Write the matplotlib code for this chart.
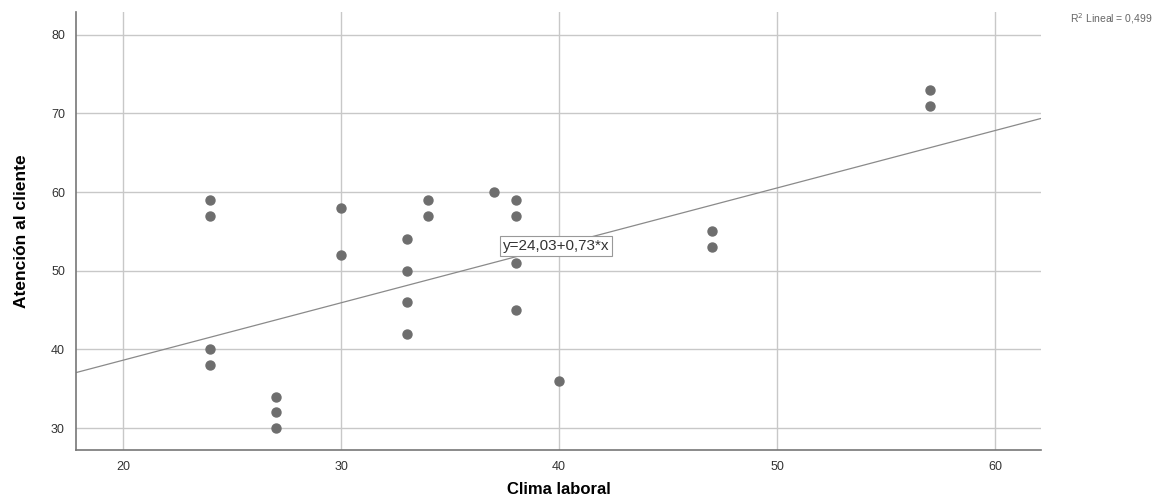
import numpy as np
import matplotlib.pyplot as plt

# Clima laboral (x) vs Atencion al cliente (y)
climaLaboral = [24, 24, 24, 24, 27, 27, 27, 30, 30, 33, 33, 33, 33,
                34, 34, 37, 38, 38, 38, 38, 40, 47, 47, 57, 57]
atencionCliente = [59, 57, 40, 38, 34, 32, 30, 58, 52, 54, 50, 46, 42,
                   59, 57, 60, 59, 57, 51, 45, 36, 55, 53, 73, 71]
intercept = 24.03
slope = 0.73
r2 = "0,499"
xTicks = [20, 30, 40, 50, 60]
yTicks = [30, 40, 50, 60, 70, 80]

plt.rcParams['font.family'] = ['Liberation Sans', 'DejaVu Sans']

fig = plt.figure(figsize=(11.57, 4.99), dpi=100)
ax = fig.add_axes([0.0657, 0.098, 0.834, 0.878])

xMin, xMax = 17.84, 62.1
ax.set_xlim(xMin, xMax)
ax.set_ylim(27.2, 82.9)

ax.grid(True, color="#c8c8c8", linewidth=1.0)
ax.set_axisbelow(True)

ax.scatter(climaLaboral, atencionCliente, s=42, color="#6e6e6e", zorder=3)

xLine = np.array([xMin, xMax])
ax.plot(xLine, intercept + slope * xLine, color="#8a8a8a", linewidth=0.9, zorder=2)

ax.text(39.86, 53.2, "y=24,03+0,73*x", ha="center", va="center", fontsize=11,
        color="#333333", zorder=4,
        bbox=dict(boxstyle="square,pad=0.2", facecolor="white", edgecolor="#999999", linewidth=0.8))

fig.text(0.996, 0.962, "R$^2$ Lineal = " + r2, ha="right", va="center", fontsize=7.5, color="#666666")

ax.set_xticks(xTicks)
ax.set_yticks(yTicks)
ax.tick_params(length=0, labelsize=9, colors="#333333", pad=8)
for s in ["top", "right"]:
    ax.spines[s].set_visible(False)
for s in ["left", "bottom"]:
    ax.spines[s].set_color("#777777")
    ax.spines[s].set_linewidth(1.2)

ax.set_xlabel("Clima laboral", fontsize=12, fontweight="bold", labelpad=6)
ax.set_ylabel("Atención al cliente", fontsize=12.5, fontweight="bold", labelpad=16)

fig.savefig("out.png", dpi=100)
